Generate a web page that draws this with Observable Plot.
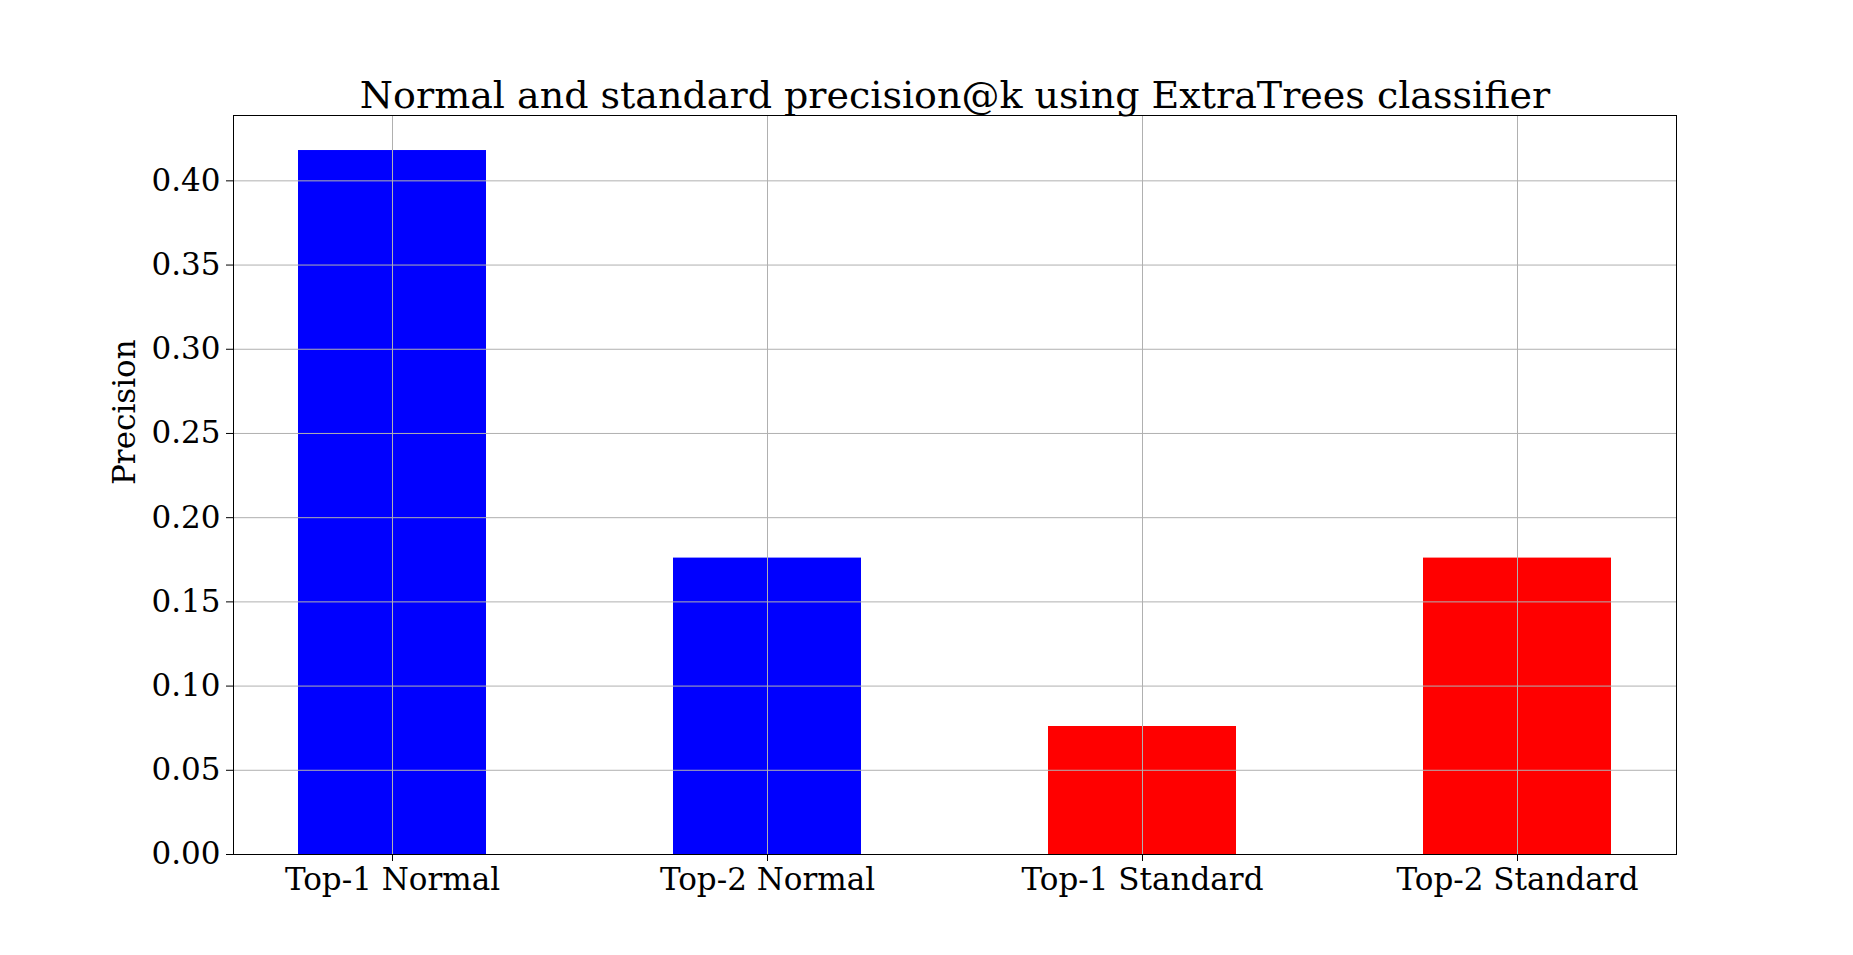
<!DOCTYPE html>
<html><head><meta charset="utf-8">
<script src="https://cdn.jsdelivr.net/npm/d3@7"></script>
<script src="https://cdn.jsdelivr.net/npm/@observablehq/plot@0.6"></script>
<style>body{margin:0;background:#fff}</style>
</head><body><div id="chart"></div>
<script>
const categories = ["Top-1 Normal", "Top-2 Normal", "Top-1 Standard", "Top-2 Standard"];
const precision = [0.418, 0.176, 0.076, 0.176];
const colors = ["#0000ff", "#0000ff", "#ff0000", "#ff0000"];
const yTicks = [0, 0.05, 0.10, 0.15, 0.20, 0.25, 0.30, 0.35, 0.40];

const data = categories.map((c, i) => ({cat: c, v: precision[i], col: colors[i]}));

let chart = Plot.plot({
  width: 1853, height: 955,
  marginLeft: 233, marginRight: 177, marginTop: 115, marginBottom: 101,
  style: {fontFamily: "DejaVu Serif", fontSize: "31px", color: "#000", background: "#fff"},
  x: {domain: categories, paddingInner: 0.5, paddingOuter: 0.17, label: null, tickSize: 7, tickPadding: 6},
  y: {domain: [0, 0.4388], ticks: yTicks, tickFormat: d3.format(".2f"), label: null, tickSize: 7, tickPadding: 6},
  marks: [
    Plot.barY(data, {x: "cat", y: "v", fill: "col"}),
    Plot.gridY(yTicks, {stroke: "#b0b0b0", strokeOpacity: 1, strokeWidth: 1}),
    Plot.gridX(categories, {stroke: "#b0b0b0", strokeOpacity: 1, strokeWidth: 1}),
    Plot.frame({stroke: "#000", strokeWidth: 1}),
    Plot.text(["Normal and standard precision@k using ExtraTrees classifier"],
      {frameAnchor: "top", dy: -8, lineAnchor: "bottom", fontSize: 38, fill: "#000"}),
    Plot.text(["Precision"],
      {frameAnchor: "left", dx: -108, rotate: -90, fontSize: 31, fill: "#000"})
  ]
});
d3.select("#chart").append(() => chart);
</script>
</body></html>
